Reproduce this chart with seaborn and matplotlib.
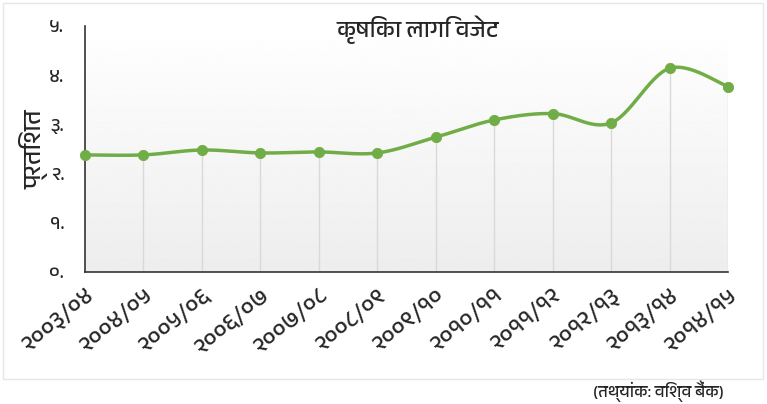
import numpy as np
import pandas as pd
import matplotlib
matplotlib.use("Agg")
import matplotlib.pyplot as plt
from matplotlib import font_manager
import seaborn as sns

# ---- data ----
years = ["२००३/०४", "२००४/०५", "२००५/०६", "२००६/०७", "२००७/०८", "२००८/०९",
         "२००९/१०", "२०१०/११", "२०११/१२", "२०१२/१३", "२०१३/१४", "२०१४/१५"]
share = [2.38, 2.38, 2.48, 2.42, 2.44, 2.42, 2.74, 3.09, 3.22, 3.03, 4.14, 3.77]
yticks = [0, 1, 2, 3, 4, 5]
ytick_labels = ["०.", "१.", "२.", "३.", "४.", "५."]
title = "कृषिका लागि वजेट"
ylabel = "प्रतिशत"
source = "(तथ्यांक: विश्व बैंक)"

sns.set_style("white")
# try to find a font with Devanagari glyphs
dev_fonts = []
for f in font_manager.fontManager.ttflist:
    if "Devanagari" in f.name or "Lohit" in f.name or "Mangal" in f.name or "Gargi" in f.name:
        dev_fonts.append(f.name)
fams = list(dict.fromkeys(dev_fonts)) + ["DejaVu Sans"]
plt.rcParams["font.family"] = fams

fig = plt.figure(figsize=(7.67, 4.04), dpi=100)
# outer chart border
fig.patches.append(plt.Rectangle((3 / 767, 1 - 379 / 404), 760 / 767, 376 / 404,
                                 transform=fig.transFigure, fill=False,
                                 edgecolor="#e6e6e6", linewidth=1))
ax = fig.add_axes([85 / 767, 1 - 272 / 404, (728 - 85) / 767, (272 - 26) / 404])

x = np.arange(len(share))
y = np.array(share, dtype=float)

# gradient background
grad = np.linspace(0.93, 1.0, 256).reshape(-1, 1)
ax.imshow(grad, extent=[0, len(share) - 1, 0, 5], origin="lower", aspect="auto",
          cmap="gray", vmin=0, vmax=1, zorder=0)

# drop lines
ax.vlines(x[1:], 0, y[1:], color="#d9d9d9", linewidth=1, zorder=1)

# smooth curve (Excel-style bezier through points)
def smooth(xs, ys, n=30):
    px, py = [], []
    N = len(xs)
    for i in range(N - 1):
        x0, y0 = (xs[i - 1], ys[i - 1]) if i > 0 else (xs[i], ys[i])
        x1, y1 = xs[i], ys[i]
        x2, y2 = xs[i + 1], ys[i + 1]
        x3, y3 = (xs[i + 2], ys[i + 2]) if i + 2 < N else (xs[i + 1], ys[i + 1])
        c1x, c1y = x1 + (x2 - x0) / 6, y1 + (y2 - y0) / 6
        c2x, c2y = x2 - (x3 - x1) / 6, y2 - (y3 - y1) / 6
        t = np.linspace(0, 1, n, endpoint=(i == N - 2))
        bx = (1 - t) ** 3 * x1 + 3 * (1 - t) ** 2 * t * c1x + 3 * (1 - t) * t ** 2 * c2x + t ** 3 * x2
        by = (1 - t) ** 3 * y1 + 3 * (1 - t) ** 2 * t * c1y + 3 * (1 - t) * t ** 2 * c2y + t ** 3 * y2
        px.extend(bx); py.extend(by)
    return np.array(px), np.array(py)

sx, sy = smooth(x, y)
curve = pd.DataFrame({"x": sx, "y": sy})
pts = pd.DataFrame({"x": x, "y": y})
sns.lineplot(data=curve, x="x", y="y", ax=ax, color="#70ad47", linewidth=2.5,
             sort=False, zorder=3, clip_on=False)
sns.scatterplot(data=pts, x="x", y="y", ax=ax, color="#70ad47", s=55,
                edgecolor="#70ad47", zorder=4, clip_on=False)

ax.set_xlim(0, len(share) - 1)
ax.set_ylim(0, 5)
ax.set_xticks(x)
ax.set_xticklabels(years, rotation=40, ha="right", rotation_mode="anchor", fontsize=17)
ax.set_yticks(yticks)
ax.set_yticklabels(ytick_labels, fontsize=14)
ax.tick_params(axis="both", direction="out", length=5, width=1, color="#333333")
ax.tick_params(axis="y", pad=10)
ax.tick_params(axis="x", pad=4)
for s in ["top", "right"]:
    ax.spines[s].set_visible(False)
ax.spines["left"].set_color("#333333")
ax.spines["bottom"].set_color("#333333")
ax.spines["left"].set_linewidth(1.2)
ax.spines["bottom"].set_linewidth(1.2)
ax.set_xlabel("")
ax.set_ylabel(ylabel, fontsize=18, labelpad=0)
ax.grid(False)

fig.text(418 / 767, 1 - 30 / 404, title, ha="center", va="center", fontsize=17)
fig.text(724 / 767, 1 - 391 / 404, source, ha="right", va="center", fontsize=12)

fig.savefig("out.png", dpi=100)
